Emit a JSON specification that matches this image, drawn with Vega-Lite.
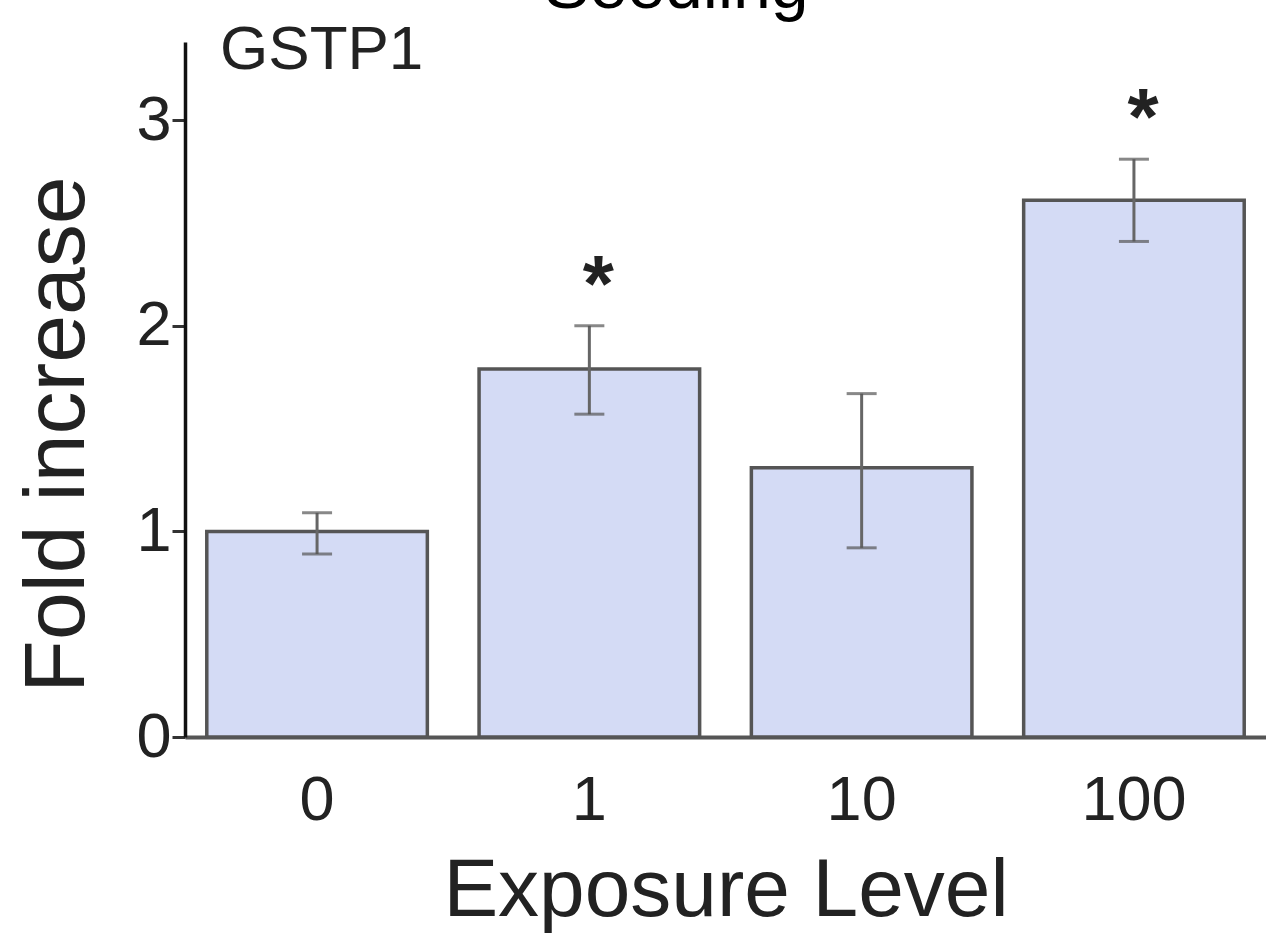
{
  "$schema": "https://vega.github.io/schema/vega-lite/v6.json",
  "width": 1081,
  "height": 695,
  "autosize": "none",
  "padding": {"left": 185, "top": 42, "right": 0, "bottom": 203},
  "background": "white",
  "config": {
    "view": {"stroke": null},
    "font": "Liberation Sans"
  },
  "data": {
    "values": [
      {"level": "0", "mean": 1.0, "lo": 0.89, "hi": 1.09, "star": ""},
      {"level": "1", "mean": 1.79, "lo": 1.57, "hi": 2.0, "star": "*"},
      {"level": "10", "mean": 1.31, "lo": 0.92, "hi": 1.67, "star": ""},
      {"level": "100", "mean": 2.61, "lo": 2.41, "hi": 2.81, "star": "*"}
    ]
  },
  "encoding": {
    "x": {
      "field": "level",
      "type": "nominal",
      "sort": ["0", "1", "10", "100"],
      "scale": {"paddingInner": 0.19, "paddingOuter": 0.08},
      "axis": {
        "title": "Exposure Level",
        "titleFont": "Liberation Sans",
        "titleFontSize": 82,
        "titleFontWeight": "normal",
        "titleColor": "#222",
        "titlePadding": 18,
        "labelFont": "Liberation Sans",
        "labelFontSize": 63,
        "labelColor": "#222",
        "labelAngle": 0,
        "labelPadding": 32,
        "ticks": false,
        "domainColor": "#555",
        "domainWidth": 4
      }
    }
  },
  "layer": [
    {
      "mark": {"type": "bar", "fill": "#d4dbf5", "stroke": "#555", "strokeWidth": 3.5},
      "encoding": {
        "y": {
          "field": "mean",
          "type": "quantitative",
          "scale": {"domain": [0, 3.38], "nice": false},
          "axis": {
            "title": "Fold increase",
            "titleFont": "Liberation Sans",
            "titleFontSize": 86,
            "titleFontWeight": "normal",
            "titleColor": "#222",
            "titlePadding": 34,
            "titleY": 392,
            "values": [0, 0.5, 1, 1.5, 2, 2.5, 3],
            "format": "d",
            "labelExpr": "datum.value % 1 === 0 ? datum.label : ''",
            "labelFont": "Liberation Sans",
            "labelFontSize": 63,
            "labelColor": "#222",
            "labelPadding": 1,
            "tickSize": {"condition": {"test": "datum.value % 1 === 0", "value": 13}, "value": 8},
            "tickColor": "#333",
            "tickWidth": 3,
            "domainColor": "#111",
            "domainWidth": 3.5,
            "grid": false
          }
        }
      }
    },
    {
      "mark": {"type": "rule", "stroke": "#666", "strokeWidth": 3},
      "encoding": {
        "y": {"field": "lo", "type": "quantitative"},
        "y2": {"field": "hi"}
      }
    },
    {
      "mark": {"type": "tick", "color": "#555", "size": 30, "thickness": 3},
      "encoding": {"y": {"field": "hi", "type": "quantitative"}}
    },
    {
      "mark": {"type": "tick", "color": "#555", "size": 30, "thickness": 3},
      "encoding": {"y": {"field": "lo", "type": "quantitative"}}
    },
    {
      "mark": {"type": "text", "font": "Liberation Sans", "fontSize": 80, "fontWeight": "bold", "color": "#222", "baseline": "alphabetic", "dy": -15, "dx": 9},
      "encoding": {
        "y": {"field": "hi", "type": "quantitative"},
        "text": {"field": "star"}
      }
    },
    {
      "data": {"values": [{"label": "GSTP1", "lx": "0", "ly": 3.25}]},
      "mark": {"type": "text", "font": "Liberation Sans", "fontSize": 62, "color": "#222", "align": "left", "baseline": "alphabetic", "dx": -97},
      "encoding": {
        "x": {"field": "lx", "type": "nominal"},
        "y": {"field": "ly", "type": "quantitative"},
        "text": {"field": "label"}
      }
    },
    {
      "data": {"values": [{"label": "Seedling", "lx": "1", "ly": 3.545}]},
      "mark": {"type": "text", "font": "Liberation Sans", "fontSize": 68, "color": "black", "align": "center", "baseline": "alphabetic", "dx": 87},
      "encoding": {
        "x": {"field": "lx", "type": "nominal"},
        "y": {"field": "ly", "type": "quantitative"},
        "text": {"field": "label"}
      }
    }
  ]
}
